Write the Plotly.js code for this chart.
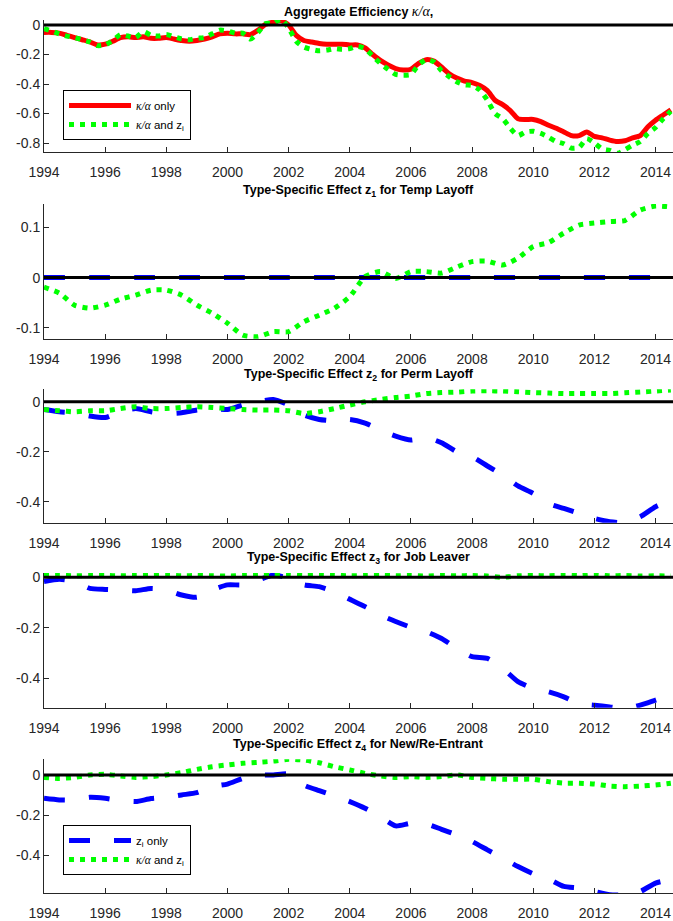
<!DOCTYPE html>
<html><head><meta charset="utf-8">
<script src="https://cdn.plot.ly/plotly-3.0.1.min.js"></script>
<style>html,body{margin:0;padding:0;background:#fff;} #chart{width:673px;height:921px;}</style>
</head><body><div id="chart"></div>
<script>
// ---------- DATA ----------
const yearsQ = [1994,1994.25,1994.5,1994.75,1995,1995.25,1995.5,1995.75,1996,1996.25,1996.5,1996.75,1997,1997.25,1997.5,1997.75,1998,1998.25,1998.5,1998.75,1999,1999.25,1999.5,1999.75,2000,2000.25,2000.5,2000.75,2001,2001.25,2001.5,2001.75,2002,2002.25,2002.5,2002.75,2003,2003.25,2003.5,2003.75,2004,2004.25,2004.5,2004.75,2005,2005.25,2005.5,2005.75,2006,2006.25,2006.5,2006.75,2007,2007.25,2007.5,2007.75,2008,2008.25,2008.5,2008.75,2009,2009.25,2009.5,2009.75,2010,2010.25,2010.5,2010.75,2011,2011.25,2011.5,2011.75,2012,2012.25,2012.5,2012.75,2013,2013.25,2013.5,2013.75,2014,2014.25,2014.5];
const yearsH = [1994,1994.5,1995,1995.5,1996,1996.5,1997,1997.5,1998,1998.5,1999,1999.5,2000,2000.5,2001,2001.5,2002,2002.5,2003,2003.5,2004,2004.5,2005,2005.5,2006,2006.5,2007,2007.5,2008,2008.5,2009,2009.5,2010,2010.5,2011,2011.5,2012,2012.5,2013,2013.5,2014,2014.5];

// Panel 1: aggregate efficiency
const aggKappaOnly = [-0.05,-0.05,-0.055,-0.07,-0.085,-0.1,-0.115,-0.135,-0.13,-0.11,-0.085,-0.08,-0.085,-0.08,-0.09,-0.09,-0.085,-0.095,-0.105,-0.11,-0.105,-0.095,-0.08,-0.06,-0.055,-0.06,-0.06,-0.065,-0.035,0.005,0.02,0.03,0.0,-0.07,-0.105,-0.115,-0.125,-0.13,-0.13,-0.13,-0.135,-0.135,-0.155,-0.2,-0.24,-0.27,-0.295,-0.305,-0.3,-0.26,-0.235,-0.245,-0.285,-0.33,-0.36,-0.38,-0.39,-0.41,-0.445,-0.51,-0.54,-0.58,-0.635,-0.64,-0.64,-0.655,-0.68,-0.7,-0.725,-0.75,-0.75,-0.725,-0.755,-0.765,-0.78,-0.79,-0.785,-0.765,-0.75,-0.69,-0.645,-0.61,-0.575];
const aggKappaAndZ = [-0.025,-0.04,-0.06,-0.075,-0.085,-0.1,-0.115,-0.14,-0.135,-0.105,-0.065,-0.075,-0.085,-0.045,-0.07,-0.075,-0.065,-0.08,-0.095,-0.1,-0.09,-0.085,-0.06,-0.035,-0.04,-0.055,-0.055,-0.095,-0.05,0.01,0.01,0.04,-0.02,-0.11,-0.15,-0.165,-0.175,-0.17,-0.16,-0.165,-0.16,-0.145,-0.16,-0.21,-0.26,-0.3,-0.335,-0.34,-0.335,-0.27,-0.235,-0.25,-0.31,-0.35,-0.385,-0.405,-0.41,-0.44,-0.51,-0.6,-0.635,-0.7,-0.75,-0.725,-0.72,-0.735,-0.76,-0.79,-0.805,-0.835,-0.83,-0.77,-0.8,-0.84,-0.85,-0.87,-0.845,-0.815,-0.79,-0.735,-0.695,-0.635,-0.585];

// Panel 2: z1 Temp Layoff
const z1ZOnly = [0,0,0,0,0,0,0,0,0,0,0,0,0,0,0,0,0,0,0,0,0,0,0,0,0,0,0,0,0,0,0,0,0,0,0,0,0,0,0,0,0,0];
const z1KappaAndZ = [-0.019,-0.031,-0.055,-0.061,-0.055,-0.043,-0.035,-0.025,-0.025,-0.035,-0.055,-0.071,-0.091,-0.115,-0.118,-0.108,-0.108,-0.088,-0.075,-0.061,-0.038,0.002,0.012,-0.002,0.012,0.012,0.009,0.021,0.032,0.033,0.025,0.039,0.062,0.07,0.089,0.105,0.109,0.112,0.114,0.135,0.143,0.141];

// Panel 3: z2 Perm Layoff
const z2ZOnly = [-0.031,-0.04,-0.044,-0.057,-0.063,-0.04,-0.027,-0.04,-0.047,-0.044,-0.033,-0.027,-0.031,-0.013,0.0,0.009,-0.013,-0.053,-0.071,-0.076,-0.071,-0.085,-0.113,-0.137,-0.153,-0.143,-0.164,-0.2,-0.22,-0.257,-0.293,-0.337,-0.367,-0.407,-0.427,-0.447,-0.467,-0.48,-0.483,-0.46,-0.42,-0.393];
const z2KappaAndZ = [-0.031,-0.036,-0.04,-0.036,-0.036,-0.027,-0.02,-0.027,-0.027,-0.023,-0.02,-0.023,-0.027,-0.031,-0.033,-0.033,-0.036,-0.047,-0.04,-0.027,-0.013,0.0,0.009,0.017,0.023,0.033,0.037,0.039,0.043,0.044,0.043,0.04,0.037,0.035,0.033,0.033,0.033,0.033,0.036,0.039,0.043,0.047];

// Panel 4: z3 Job Leaver
const z3ZOnly = [-0.017,-0.008,-0.017,-0.044,-0.048,-0.05,-0.053,-0.044,-0.05,-0.07,-0.079,-0.05,-0.03,-0.03,-0.011,0.009,-0.004,-0.03,-0.037,-0.057,-0.087,-0.116,-0.149,-0.175,-0.198,-0.215,-0.242,-0.281,-0.314,-0.321,-0.36,-0.413,-0.44,-0.453,-0.473,-0.5,-0.506,-0.513,-0.519,-0.506,-0.486,-0.466];
const z3KappaAndZ = [0.007,0.008,0.006,0.007,0.007,0.006,0.007,0.008,0.009,0.006,0.007,0.006,0.005,0.007,0.008,0.009,0.01,0.007,0.009,0.008,0.006,0.007,0.008,0.006,0.007,0.005,0.007,0.006,0.007,0.005,0.0,0.006,0.007,0.006,0.008,0.007,0.011,0.006,0.007,0.005,0.006,0.005];

// Panel 5: z4 New/Re-Entrant
const z4ZOnly = [-0.116,-0.124,-0.124,-0.111,-0.116,-0.127,-0.132,-0.117,-0.111,-0.099,-0.088,-0.058,-0.045,-0.017,0.0,0.0,0.005,-0.05,-0.078,-0.104,-0.132,-0.165,-0.207,-0.253,-0.24,-0.243,-0.27,-0.298,-0.331,-0.372,-0.413,-0.455,-0.491,-0.517,-0.554,-0.562,-0.579,-0.595,-0.595,-0.579,-0.537,-0.52];
const z4KappaAndZ = [-0.012,-0.017,-0.012,0.0,0.003,-0.005,-0.012,-0.008,0.0,0.012,0.028,0.041,0.05,0.058,0.063,0.069,0.078,0.074,0.061,0.041,0.025,0.008,-0.005,-0.012,-0.008,-0.012,-0.008,0.0,-0.012,-0.017,-0.021,-0.021,-0.021,-0.033,-0.041,-0.041,-0.045,-0.055,-0.058,-0.055,-0.05,-0.041];

// Tick labels
const xTickVals = [1994,1996,1998,2000,2002,2004,2006,2008,2010,2012,2014];
const xTickText = ["1994","1996","1998","2000","2002","2004","2006","2008","2010","2012","2014"];
const yTicks1 = [-0.8,-0.6,-0.4,-0.2,0];
const yTickText1 = ["-0.8","-0.6","-0.4","-0.2","0"];
const yTicks2 = [-0.1,0,0.1];
const yTickText2 = ["-0.1","0","0.1"];
const yTicks345 = [-0.4,-0.2,0];
const yTickText345 = ["-0.4","-0.2","0"];

const KA = '<span style="font-family:\'Liberation Serif\';font-style:italic;font-weight:normal">κ/α</span>';
const KA_T = '<span style="font-family:\'Liberation Serif\';font-style:italic;font-weight:normal;font-size:14px">κ/α</span>';
const panelTitles = [
  'Aggregate Efficiency ' + KA_T + ',',
  'Type-Specific Effect z<sub>1</sub> for Temp Layoff',
  'Type-Specific Effect z<sub>2</sub> for Perm Layoff',
  'Type-Specific Effect z<sub>3</sub> for Job Leaver',
  'Type-Specific Effect z<sub>4</sub> for New/Re-Entrant'
];
const legendNames = {
  kappaOnly: KA + ' only',
  kappaAndZ: KA + ' and z<sub>i</sub>',
  zOnly: 'z<sub>i</sub> only'
};

// ---------- STYLE / LAYOUT ----------
const H = 921;
const RED = {color:'#ff0000', width:5};
const GREEN = {color:'#00ff00', width:5, dash:'5px,6px'};
const BLUE = {color:'#0000ff', width:5, dash:'21px,24px'};

// plot-area pixel bounds [top, bottom] and y ranges
const panelPx = [[20,152.3],[204,338.7],[389.3,522.7],[573,707.7],[759.3,893.3]];
const yRanges = [[-0.863,0.034],[-0.122,0.147],[-0.484,0.05],[-0.516,0.017],[-0.588,0.078]];
const yTickSets = [[yTicks1,yTickText1],[yTicks2,yTickText2],[yTicks345,yTickText345],[yTicks345,yTickText345],[yTicks345,yTickText345]];
const titleY = [11, 191, 375, 558, 745];

const traces = [];
function addTrace(k, x, y, line, name, legend, showlegend) {
  const sfx = k === 0 ? '' : String(k+1);
  traces.push({type:'scatter', mode:'lines', x:x, y:y, xaxis:'x'+sfx, yaxis:'y'+sfx,
    line:Object.assign({shape:'spline', smoothing:0.6}, line), name:name,
    legend:legend, showlegend:showlegend, hoverinfo:'skip'});
}
addTrace(0, yearsQ, aggKappaOnly, RED, legendNames.kappaOnly, 'legend', true);
addTrace(0, yearsQ, aggKappaAndZ, GREEN, legendNames.kappaAndZ, 'legend', true);
addTrace(1, yearsH, z1ZOnly, BLUE, legendNames.zOnly, 'legend', false);
addTrace(1, yearsH, z1KappaAndZ, GREEN, legendNames.kappaAndZ, 'legend', false);
addTrace(2, yearsH, z2ZOnly, BLUE, legendNames.zOnly, 'legend', false);
addTrace(2, yearsH, z2KappaAndZ, GREEN, legendNames.kappaAndZ, 'legend', false);
addTrace(3, yearsH, z3ZOnly, BLUE, legendNames.zOnly, 'legend', false);
addTrace(3, yearsH, z3KappaAndZ, GREEN, legendNames.kappaAndZ, 'legend', false);
addTrace(4, yearsH, z4ZOnly, BLUE, legendNames.zOnly, 'legend2', true);
addTrace(4, yearsH, z4KappaAndZ, GREEN, legendNames.kappaAndZ, 'legend2', true);

const axisFont = {family:'Liberation Sans, Arial, sans-serif', size:14, color:'#262626'};
const legendCommon = {xanchor:'left', yanchor:'top', bgcolor:'#fff', bordercolor:'#000', borderwidth:1,
    font:{family:'Liberation Sans, Arial, sans-serif', size:11.5, color:'#000'}, itemwidth:62, tracegroupgap:0};
const layout = {
  width:673, height:H, margin:{l:44, r:0, t:0, b:0}, paper_bgcolor:'#fff', plot_bgcolor:'#fff',
  showlegend:true, annotations:[], shapes:[],
  legend:Object.assign({x:(63-44)/629, y:1-90/H}, legendCommon),
  legend2:Object.assign({x:(63-44)/629, y:1-825/H}, legendCommon)
};
for (let k = 0; k < 5; k++) {
  const sfx = k === 0 ? '' : String(k+1);
  const [top, bot] = panelPx[k];
  layout['xaxis'+sfx] = {domain:[0,1], anchor:'y'+sfx, range:[1994,2014.57], showline:true, linecolor:'#262626', linewidth:1,
    ticks:'inside', ticklen:5, tickcolor:'#262626', tickvals:xTickVals, ticktext:xTickText, showgrid:false, zeroline:false,
    tickfont:axisFont, automargin:false, fixedrange:true, ticklabeloverflow:'allow', ticklabelstandoff:7};
  layout['yaxis'+sfx] = {domain:[1-bot/H, 1-top/H], anchor:'x'+sfx, range:yRanges[k], showline:true, linecolor:'#262626', linewidth:1,
    ticks:'inside', ticklen:5, tickcolor:'#262626', tickvals:yTickSets[k][0], ticktext:yTickSets[k][1], showgrid:false, zeroline:false,
    tickfont:axisFont, automargin:false, fixedrange:true, ticklabeloverflow:'allow'};
  layout.annotations.push({xref:'paper', yref:'paper', x:0.5, y:1-titleY[k]/H, xanchor:'center', yanchor:'middle', showarrow:false,
    text:panelTitles[k], font:{family:'Liberation Sans, Arial, sans-serif', size:12.5, color:'#000', weight:'bold'}});
  layout.shapes.push({type:'line', xref:'x'+sfx+' domain', yref:'y'+sfx, x0:0, x1:1, y0:0, y1:0, layer:'above', line:{color:'#000', width:3}});
}
Plotly.newPlot('chart', traces, layout, {staticPlot:true, displayModeBar:false});
</script></body></html>
